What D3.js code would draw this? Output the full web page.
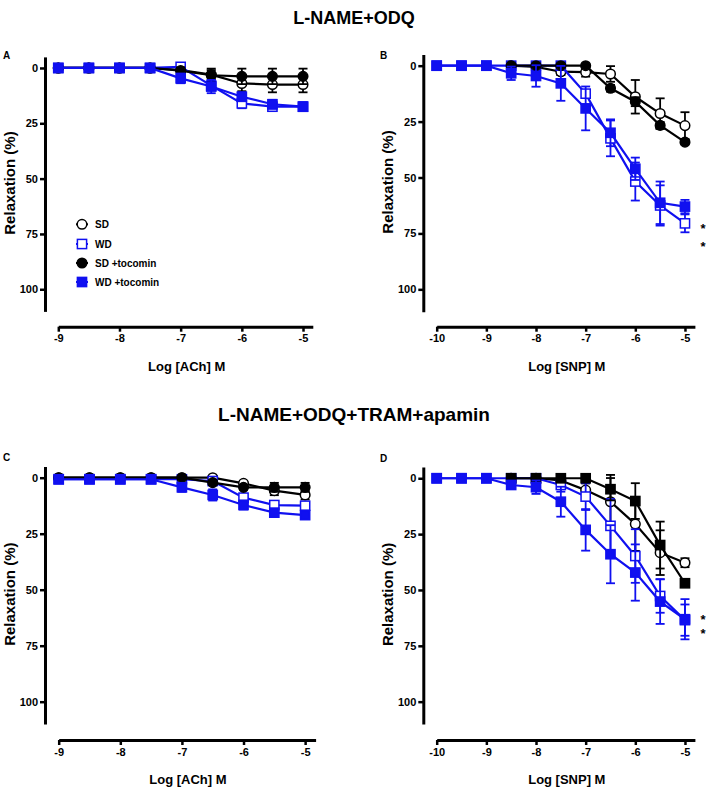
<!DOCTYPE html>
<html><head><meta charset="utf-8">
<script src="https://cdn.jsdelivr.net/npm/d3@7"></script>
<style>html,body{margin:0;padding:0;background:#fff}svg{display:block}</style>
</head><body>
<script>
// ---------- DATA ----------
const seriesNames = ["SD", "WD", "SD +tocomin", "WD +tocomin"];
const concACh = [-9, -8.5, -8, -7.5, -7, -6.5, -6, -5.5, -5];
const concSNP = [-10, -9.5, -9, -8.5, -8, -7.5, -7, -6.5, -6, -5.5, -5];
const ticksY = [0, 25, 50, 75, 100];
const ticksACh = [-9, -8, -7, -6, -5];
const ticksSNP = [-10, -9, -8, -7, -6, -5];

// Panel A (L-NAME+ODQ, ACh)
const A_SD      = [0, 0, 0, 0, 1, 3, 7, 7.5, 7.5];
const A_SD_err  = [0, 0, 0, 0, 1, 2, 3.5, 3.5, 3.5];
const A_WD      = [0, 0, 0, 0, -0.5, 8, 16, 17.5, 17.5];
const A_WD_err  = [0, 0, 0, 0, 1, 2, 2.2, 2, 1.5];
const A_SDT     = [0, 0, 0, 0, 1.2, 3.3, 3.8, 3.8, 3.8];
const A_SDT_err = [0, 0, 0, 0, 1.5, 3, 3.5, 3.5, 3.5];
const A_WDT     = [0, 0, 0, 0, 4.7, 8.4, 13, 16.4, 17.5];
const A_WDT_err = [0, 0, 0, 0, 2.2, 3, 2, 2, 2];

// Panel B (L-NAME+ODQ, SNP)
const B_SD      = [null, null, null, 0, 0.5, 2.7, 2.9, 3.7, 13.9, 21.4, 26.8];
const B_SD_err  = [0, 0, 0, 0, 1, 1.5, 2, 3.5, 7.5, 6.8, 6];
const B_WD      = [0, 0, 0, 0, 0, 0, 12.5, 32.5, 51.8, 62.5, 70.5];
const B_WD_err  = [0, 0, 0, 0, 0, 0, 0, 8, 8.5, 9, 4];
const B_SDT     = [null, null, null, 0, 0, 0, 0, 10.1, 16.1, 26.7, 34.2];
const B_SDT_err = [0, 0, 0, 0, 0, 0, 0, 1.5, 2, 1.5, 1];
const B_WDT     = [0, 0, 0, 3.4, 4.6, 7.9, 19.1, 30, 46.1, 61.3, 63];
const B_WDT_err = [0, 0, 0, 3, 4.8, 7.8, 9.8, 6, 5, 9.5, 3];

// Panel C (L-NAME+ODQ+TRAM+apamin, ACh)
const C_SD      = [0, 0, 0, 0, 0, 0, 2.5, 5.8, 7.7];
const C_SD_err  = [0, 0, 0, 0, 0.5, 0.8, 1, 2, 2];
const C_WD      = [0.7, 0.7, 0.7, 0.7, 0.7, 1.5, 8.9, 12.2, 12.5];
const C_WD_err  = [0.5, 0.5, 0.5, 0.5, 0.5, 1, 1.5, 1.5, 1.5];
const C_SDT     = [0, 0, 0, 0, 0, 2.2, 4.3, 4.3, 4.3];
const C_SDT_err = [0, 0, 0, 0, 0.5, 1, 1, 2, 2];
const C_WDT     = [0.7, 0.7, 0.7, 0.7, 4.3, 7.7, 12.2, 15.6, 16.7];
const C_WDT_err = [0.5, 0.5, 0.5, 0.5, 2, 2.5, 2, 1.5, 1.5];

// Panel D (L-NAME+ODQ+TRAM+apamin, SNP)
const D_SD      = [null, null, null, 0, 0, 1, 5.3, 10.5, 20.5, 33.3, 37.8];
const D_SD_err  = [0, 0, 0, 0, 0, 1, 3, 12, 12, 10, 2];
const D_WD      = [0, 0, 0, 0, 0, 3, 8.2, 21.3, 34.8, 52.7, 63.5];
const D_WD_err  = [0, 0, 0, 0, 0.5, 3, 6, 12, 12, 7.5, 7];
const D_SDT     = [null, null, null, 0, 0, 0, 0, 4.9, 10.2, 29.9, 47];
const D_SDT_err = [0, 0, 0, 0, 0, 0, 0, 5, 8, 10.5, 1];
const D_WDT     = [0, 0, 0, 3, 4, 10.5, 23.1, 34, 42.2, 55.2, 63.1];
const D_WDT_err = [0, 0, 0, 1, 3, 6.7, 9.3, 13, 12.6, 10, 9];

// ---------- DRAWING ----------
const W = 708, H = 787;
const BLUE = "#1010f0", BLACK = "#000";
const FONT = "'Liberation Sans', Arial, Helvetica, sans-serif";
const svg = d3.select("body").append("svg").attr("width", W).attr("height", H)
  .style("font-family", FONT);

function styles(blackFilledShape) {
  return [
    {shape: "circle", color: BLACK, fill: "#fff"},
    {shape: "square", color: BLUE, fill: "#fff"},
    {shape: blackFilledShape, color: BLACK, fill: BLACK},
    {shape: "square", color: BLUE, fill: BLUE}
  ];
}

function marker(g, shape, cx, cy, color, fill) {
  if (shape === "circle") {
    g.append("circle").attr("cx", cx).attr("cy", cy).attr("r", 4.8)
      .attr("fill", fill).attr("stroke", color).attr("stroke-width", 1.5);
  } else {
    g.append("rect").attr("x", cx - 4.6).attr("y", cy - 4.6).attr("width", 9.2).attr("height", 9.2)
      .attr("fill", fill).attr("stroke", color).attr("stroke-width", 1.5);
  }
}

function panel(cfg) {
  const x = d3.scaleLinear().domain(cfg.xDomain).range(cfg.xRange);
  const y = d3.scaleLinear().domain([-5, 110]).range(cfg.yRange);
  const g = svg.append("g");

  const ya = g.append("g").attr("transform", `translate(${cfg.yAxisX},0)`)
    .call(d3.axisLeft(y).tickValues(ticksY).tickSize(5).tickSizeOuter(0).tickPadding(2).tickFormat(d => String(d)));
  ya.select(".domain").attr("stroke", "#000").attr("stroke-width", 3);
  ya.selectAll(".tick line").attr("stroke", "#000").attr("stroke-width", 2.5);
  ya.selectAll(".tick text").attr("font-size", 11).attr("font-weight", "bold").attr("font-family", FONT).attr("fill", "#000");

  const xa = g.append("g").attr("transform", `translate(0,${cfg.xAxisY})`)
    .call(d3.axisBottom(x).tickValues(cfg.ticksX).tickSize(5).tickSizeOuter(0).tickPadding(3).tickFormat(d => String(d)));
  xa.select(".domain").attr("stroke", "#000").attr("stroke-width", 3);
  xa.selectAll(".tick line").attr("stroke", "#000").attr("stroke-width", 2.5);
  xa.selectAll(".tick text").attr("font-size", 11).attr("font-weight", "bold").attr("font-family", FONT).attr("fill", "#000");

  g.append("text").attr("x", (cfg.xRange[0] + x(cfg.ticksX[cfg.ticksX.length - 1])) / 2 + cfg.xTitleDx)
    .attr("y", cfg.xAxisY + 44).attr("text-anchor", "middle")
    .attr("font-size", 13).attr("font-weight", "bold").text(cfg.xTitle);
  g.append("text").attr("transform", `translate(${cfg.yAxisX - 30},${y(52)}) rotate(-90)`)
    .attr("text-anchor", "middle").attr("font-size", 15).attr("font-weight", "bold")
    .text("Relaxation (%)");

  g.append("text").attr("x", cfg.letterX).attr("y", cfg.letterY)
    .attr("font-size", 10).attr("font-weight", "bold").text(cfg.letter);

  const st = styles(cfg.blackFilledShape);
  cfg.series.forEach((s, i) => {
    const sty = st[i];
    const pts = cfg.conc.map((c, k) => ({x: c, y: s.v[k], e: s.e[k]})).filter(p => p.y !== null);
    const sg = g.append("g");
    sg.append("path").datum(pts)
      .attr("d", d3.line().x(p => x(p.x)).y(p => y(p.y)))
      .attr("fill", "none").attr("stroke", sty.color).attr("stroke-width", 2.2);
    pts.filter(p => p.e > 0).forEach(p => {
      const px = x(p.x), y1 = y(p.y - p.e), y2 = y(p.y + p.e);
      sg.append("line").attr("x1", px).attr("x2", px).attr("y1", y1).attr("y2", y2)
        .attr("stroke", sty.color).attr("stroke-width", 1.8);
      [y1, y2].forEach(yy => sg.append("line").attr("x1", px - 4.5).attr("x2", px + 4.5)
        .attr("y1", yy).attr("y2", yy).attr("stroke", sty.color).attr("stroke-width", 1.8));
    });
    pts.forEach(p => marker(sg, sty.shape, x(p.x), y(p.y), sty.color, sty.fill));
  });

  (cfg.stars || []).forEach(v => {
    g.append("text").attr("x", 703).attr("y", y(v) + 6).attr("text-anchor", "middle")
      .attr("font-size", 13).attr("font-weight", "bold").text("*");
  });
  return {x, y, g};
}

svg.append("text").attr("x", 354).attr("y", 24).attr("text-anchor", "middle")
  .attr("font-size", 18).attr("font-weight", "bold").text("L-NAME+ODQ");
svg.append("text").attr("x", 354).attr("y", 421).attr("text-anchor", "middle")
  .attr("font-size", 19).attr("font-weight", "bold").text("L-NAME+ODQ+TRAM+apamin");

panel({
  letter: "A", letterX: 3, letterY: 59, conc: concACh, ticksX: ticksACh,
  xDomain: [-9, -4.84], xRange: [58.3, 312.8], yRange: [56.9, 311.4],
  yAxisX: 45, xAxisY: 326.7, xTitle: "Log [ACh] M", xTitleDx: 6, blackFilledShape: "circle",
  series: [{v: A_SD, e: A_SD_err}, {v: A_WD, e: A_WD_err}, {v: A_SDT, e: A_SDT_err}, {v: A_WDT, e: A_WDT_err}]
});
panel({
  letter: "B", letterX: 380, letterY: 59, conc: concSNP, ticksX: ticksSNP,
  xDomain: [-10, -4.8], xRange: [436.7, 694.9], yRange: [54.5, 311.7],
  yAxisX: 423.3, xAxisY: 326.7, xTitle: "Log [SNP] M", xTitleDx: 6, blackFilledShape: "circle",
  series: [{v: B_SD, e: B_SD_err}, {v: B_WD, e: B_WD_err}, {v: B_SDT, e: B_SDT_err}, {v: B_WDT, e: B_WDT_err}],
  stars: [72, 80]
});
panel({
  letter: "C", letterX: 3, letterY: 461, conc: concACh, ticksX: ticksACh,
  xDomain: [-9, -4.83], xRange: [58.7, 315.6], yRange: [466.5, 724.1],
  yAxisX: 45, xAxisY: 740, xTitle: "Log [ACh] M", xTitleDx: 6, blackFilledShape: "circle",
  series: [{v: C_SD, e: C_SD_err}, {v: C_WD, e: C_WD_err}, {v: C_SDT, e: C_SDT_err}, {v: C_WDT, e: C_WDT_err}]
});
panel({
  letter: "D", letterX: 380, letterY: 462, conc: concSNP, ticksX: ticksSNP,
  xDomain: [-10, -4.8], xRange: [436.7, 694.9], yRange: [467.1, 724.0],
  yAxisX: 423.3, xAxisY: 740, xTitle: "Log [SNP] M", xTitleDx: 6, blackFilledShape: "square",
  series: [{v: D_SD, e: D_SD_err}, {v: D_WD, e: D_WD_err}, {v: D_SDT, e: D_SDT_err}, {v: D_WDT, e: D_WDT_err}],
  stars: [62.5, 68.8]
});

const stl = styles("circle");
const legY = [224.3, 244, 263, 282];
const lg = svg.append("g");
seriesNames.forEach((name, i) => {
  lg.append("line").attr("x1", 76).attr("x2", 88).attr("y1", legY[i]).attr("y2", legY[i])
    .attr("stroke", stl[i].color).attr("stroke-width", 2);
  marker(lg, stl[i].shape, 82, legY[i], stl[i].color, stl[i].fill);
  lg.append("text").attr("x", 95).attr("y", legY[i] + 3.5).attr("font-size", 10)
    .attr("font-weight", "bold").text(name);
});
</script>
</body></html>
